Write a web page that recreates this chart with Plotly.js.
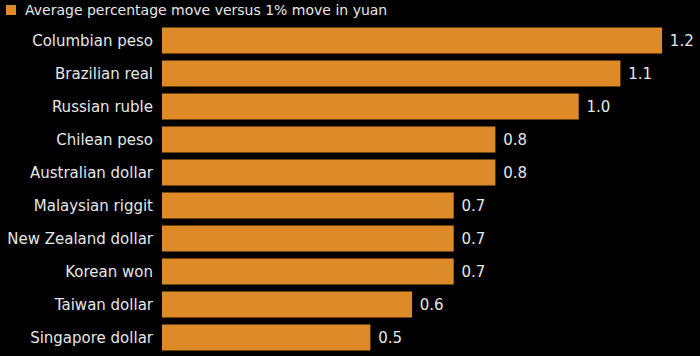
<!DOCTYPE html>
<html>
<head>
<meta charset="utf-8">
<script src="https://cdn.plot.ly/plotly-3.0.1.min.js"></script>
<style>html,body{margin:0;padding:0;background:#000;}</style>
</head>
<body>
<div id="chart" style="width:700px;height:356px;"></div>
<script>
const currencies = ["Columbian peso","Brazilian real","Russian ruble","Chilean peso","Australian dollar","Malaysian riggit","New Zealand dollar","Korean won","Taiwan dollar","Singapore dollar"];
const moves = [1.2, 1.1, 1.0, 0.8, 0.8, 0.7, 0.7, 0.7, 0.6, 0.5];
const seriesName = "Average percentage move versus 1% move in yuan";

const FONT = "DejaVu Sans, sans-serif";
const TXT = "#e6e6e6";
const BAR = "#dd8a28";

Plotly.newPlot("chart", [{
  type: "bar",
  orientation: "h",
  y: currencies,
  x: moves,
  name: seriesName,
  showlegend: false,
  marker: {color: BAR, line: {width: 0}},
  width: 0.79,
  texttemplate: "\u00a0%{x:.1f}",
  textposition: "outside",
  cliponaxis: false,
  textfont: {family: FONT, size: 15, color: TXT},
  hoverinfo: "none"
}], {
  width: 700, height: 356,
  paper_bgcolor: "#000", plot_bgcolor: "#000",
  margin: {l: 162, r: 0, t: 24, b: 2},
  font: {family: FONT, size: 15, color: TXT},
  xaxis: {range: [0, 1.291], visible: false, fixedrange: true},
  yaxis: {autorange: "reversed", showgrid: false, zeroline: false, showline: false,
          ticks: "", ticklabelstandoff: 8, tickfont: {family: FONT, size: 15, color: TXT}},
  showlegend: false,
  shapes: [{type: "rect", xref: "paper", yref: "paper",
            x0: -0.290, x1: -0.2714, y0: 1.0273, y1: 1.0576,
            fillcolor: BAR, line: {width: 0}}],
  annotations: [{text: seriesName, xref: "paper", yref: "paper",
                 x: -0.2565, y: 1.0424, xanchor: "left", yanchor: "middle",
                 showarrow: false, borderpad: 0,
                 font: {family: FONT, size: 14, color: TXT}}]
}, {displayModeBar: false, staticPlot: true});
</script>
</body>
</html>
